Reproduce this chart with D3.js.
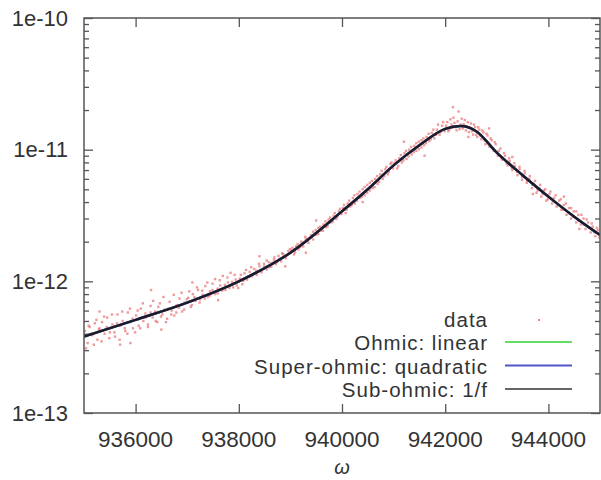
<!DOCTYPE html>
<html>
<head>
<meta charset="utf-8">
<script src="https://cdn.jsdelivr.net/npm/d3@7"></script>
<style>
  body { margin: 0; background: #fff; }
  text { font-family: "Liberation Sans", Arial, sans-serif; fill: #333; }
</style>
</head>
<body>
<div id="chart"></div>
<script>
const margin = { top: 18, right: 1, bottom: 67, left: 84 },
    width = 601,
    height = 480

// x ticks and y decades
var xTicks = [936000, 938000, 940000, 942000, 944000];
var yTicks = [1e-13, 1e-12, 1e-11, 1e-10];
var yTickLabels = ['1e-13', '1e-12', '1e-11', '1e-10'];

// fitted curve
var fitW = [935000, 936000, 937000, 938000, 939000, 940000, 940500, 941000, 941500, 942000, 942300, 942600, 943000, 943500, 944000, 944500, 945000];
var fitS = [3.8e-13, 5.1e-13, 6.9e-13, 1.0e-12, 1.65e-12, 3.4e-12, 5.0e-12, 7.6e-12, 1.08e-11, 1.44e-11, 1.51e-11, 1.38e-11, 9.5e-12, 6.4e-12, 4.4e-12, 3.1e-12, 2.25e-12];

// measured points (omega, signal)
var dataW = [
  935020, 935070, 935110, 935160, 935210, 935260, 935300, 935350, 935400, 935450, 935500, 935550, 935600, 935650, 935700, 935750, 935800, 935850, 935900, 935950,
  936010, 936060, 936100, 936150, 936190, 936240, 936290, 936330, 936380, 936420, 936470, 936520, 936560, 936610, 936660, 936700, 936750, 936800, 936850, 936900, 936950,
  937020, 937070, 937110, 937160, 937210, 937250, 937300, 937350, 937400, 937440, 937490, 937540, 937590, 937630, 937680, 937730, 937780, 937820, 937870, 937920, 937960,
  938020, 938070, 938110, 938160, 938210, 938250, 938300, 938350, 938400, 938440, 938490, 938540, 938580, 938630, 938680, 938720, 938770, 938820, 938860, 938910, 938960,
  939020, 939070, 939110, 939160, 939210, 939250, 939300, 939350, 939400, 939440, 939490, 939540, 939580, 939630, 939680, 939720, 939770, 939820, 939860, 939910, 939960,
  940020, 940070, 940110, 940160, 940210, 940250, 940300, 940350, 940400, 940440, 940490, 940540, 940580, 940630, 940680, 940720, 940770, 940820, 940860, 940910, 940960,
  941020, 941070, 941110, 941160, 941210, 941250, 941300, 941350, 941400, 941440, 941490, 941540, 941580, 941630, 941680, 941720, 941770, 941820, 941860, 941910, 941960,
  942020, 942060, 942100, 942140, 942180, 942220, 942260, 942300, 942340, 942380, 942420, 942460, 942500, 942540, 942580, 942620, 942660, 942700, 942740, 942780, 942820, 942860, 942900, 942940, 942980,
  943020, 943070, 943110, 943160, 943210, 943250, 943300, 943350, 943400, 943440, 943490, 943540, 943580, 943630, 943680, 943720, 943770, 943820, 943860, 943910, 943960,
  944020, 944070, 944110, 944160, 944210, 944250, 944300, 944350, 944400, 944440, 944490, 944540, 944580, 944630, 944680, 944720, 944770, 944820, 944860, 944910, 944960,
  935040, 935090, 935140, 935190, 935240, 935290, 935340, 935390, 935440, 935490, 935540, 935590, 935640, 935690, 935740, 935790, 935840, 935890, 935940, 935990,
  936040, 936090, 936140, 936190, 936240, 936290, 936340, 936390, 936440, 936490, 936540, 936590, 936640, 936690, 936740, 936790, 936840, 936890, 936940, 936990,
  937040, 937090, 937140, 937190, 937240, 937290, 937340, 937390, 937440, 937490, 937540, 937590, 937640, 937690, 937740, 937790, 937840, 937890, 937940, 937990,
  938040, 938090, 938140, 938190, 938240, 938290, 938340, 938390, 938440, 938490, 938540, 938590, 938640, 938690, 938740, 938790, 938840, 938890, 938940, 938990,
  939040, 939090, 939140, 939190, 939240, 939290, 939340, 939390, 939440, 939490, 939540, 939590, 939640, 939690, 939740, 939790, 939840, 939890, 939940, 939990,
  940040, 940090, 940140, 940190, 940240, 940290, 940340, 940390, 940440, 940490, 940540, 940590, 940640, 940690, 940740, 940790, 940840, 940890, 940940, 940990,
  941040, 941090, 941140, 941190, 941240, 941290, 941340, 941390, 941440, 941490, 941540, 941590, 941640, 941690, 941740, 941790, 941840, 941890, 941940, 941990,
  942040, 942080, 942120, 942160, 942200, 942240, 942280, 942320, 942360, 942400, 942440, 942480, 942520, 942560, 942600, 942640, 942680, 942720, 942760, 942800, 942840, 942880, 942920, 942960, 943000,
  943040, 943090, 943140, 943190, 943240, 943290, 943340, 943390, 943440, 943490, 943540, 943590, 943640, 943690, 943740, 943790, 943840, 943890, 943940, 943990,
  944040, 944090, 944140, 944190, 944240, 944290, 944340, 944390, 944440, 944490, 944540, 944590, 944640, 944690, 944740, 944790, 944840, 944890, 944940, 944990,
  935300, 935700, 935900, 936300, 936500, 937100, 937600, 938400, 938900, 939300, 939500, 940400, 941200, 941600, 942150, 942450, 942850, 943300, 943700, 944300, 944600
];
var dataS = [
  4.2e-13, 3.4e-13, 4.5e-13, 3.9e-13, 4.8e-13, 3.6e-13, 4.4e-13, 4.9e-13, 4.0e-13, 5.3e-13, 4.1e-13, 4.7e-13, 3.8e-13, 5.6e-13, 4.6e-13, 5.0e-13, 4.2e-13, 5.8e-13, 4.9e-13, 4.4e-13,
  5.5e-13, 4.6e-13, 6.2e-13, 5.0e-13, 5.7e-13, 4.7e-13, 6.5e-13, 5.3e-13, 5.9e-13, 4.9e-13, 6.8e-13, 5.6e-13, 6.1e-13, 5.2e-13, 7.0e-13, 6.0e-13, 5.5e-13, 6.6e-13, 7.4e-13, 5.9e-13, 6.9e-13,
  7.5e-13, 6.4e-13, 8.0e-13, 7.1e-13, 8.6e-13, 7.3e-13, 7.9e-13, 9.2e-13, 7.6e-13, 8.4e-13, 9.6e-13, 8.0e-13, 8.8e-13, 1.02e-12, 8.5e-13, 9.4e-13, 1.07e-12, 8.9e-13, 9.9e-13, 1.12e-12, 9.3e-13,
  1.05e-12, 9.5e-13, 1.15e-12, 1.03e-12, 1.18e-12, 1.09e-12, 1.24e-12, 1.12e-12, 1.30e-12, 1.17e-12, 1.36e-12, 1.23e-12, 1.40e-12, 1.29e-12, 1.46e-12, 1.35e-12, 1.56e-12, 1.42e-12, 1.61e-12, 1.50e-12, 1.70e-12,
  1.72e-12, 1.60e-12, 1.85e-12, 1.75e-12, 2.00e-12, 1.84e-12, 2.10e-12, 1.96e-12, 2.25e-12, 2.08e-12, 2.45e-12, 2.28e-12, 2.60e-12, 2.42e-12, 2.85e-12, 2.62e-12, 3.05e-12, 2.85e-12, 3.30e-12, 3.10e-12, 3.55e-12,
  3.6e-12, 3.3e-12, 3.9e-12, 3.7e-12, 4.3e-12, 3.9e-12, 4.6e-12, 4.3e-12, 5.0e-12, 4.5e-12, 5.4e-12, 4.9e-12, 5.8e-12, 5.2e-12, 6.3e-12, 5.7e-12, 6.9e-12, 6.3e-12, 7.4e-12, 6.8e-12, 8.0e-12,
  7.9e-12, 7.2e-12, 8.6e-12, 8.0e-12, 9.4e-12, 8.5e-12, 1.00e-11, 9.2e-12, 1.07e-11, 9.8e-12, 1.15e-11, 1.04e-11, 1.22e-11, 1.12e-11, 1.32e-11, 1.20e-11, 1.42e-11, 1.30e-11, 1.55e-11, 1.36e-11, 1.62e-11,
  1.52e-11, 1.38e-11, 1.70e-11, 1.47e-11, 1.60e-11, 1.40e-11, 1.95e-11, 1.55e-11, 1.45e-11, 1.68e-11, 1.50e-11, 1.36e-11, 1.58e-11, 1.30e-11, 1.48e-11, 1.25e-11, 1.42e-11, 1.20e-11, 1.35e-11, 1.10e-11, 1.28e-11, 1.05e-11, 1.18e-11, 9.8e-12, 1.10e-11,
  9.0e-12, 1.02e-11, 8.4e-12, 9.0e-12, 7.6e-12, 8.2e-12, 7.0e-12, 7.5e-12, 6.4e-12, 7.1e-12, 5.9e-12, 6.6e-12, 5.6e-12, 6.0e-12, 5.1e-12, 5.5e-12, 4.7e-12, 5.1e-12, 4.4e-12, 4.9e-12, 4.1e-12,
  4.6e-12, 3.9e-12, 4.3e-12, 3.7e-12, 4.1e-12, 3.5e-12, 3.8e-12, 3.2e-12, 3.6e-12, 3.0e-12, 3.4e-12, 2.8e-12, 3.2e-12, 2.7e-12, 3.0e-12, 2.5e-12, 2.8e-12, 2.35e-12, 2.6e-12, 2.2e-12, 2.45e-12,
  3.1e-13, 4.6e-13, 4.0e-13, 3.3e-13, 5.1e-13, 4.3e-13, 3.5e-13, 5.4e-13, 4.5e-13, 3.7e-13, 5.6e-13, 4.1e-13, 4.8e-13, 3.6e-13, 5.9e-13, 4.4e-13, 4.0e-13, 6.2e-13, 5.2e-13, 4.1e-13,
  6.0e-13, 4.4e-13, 6.8e-13, 5.3e-13, 4.5e-13, 5.8e-13, 7.1e-13, 5.0e-13, 6.4e-13, 5.4e-13, 7.6e-13, 4.9e-13, 6.2e-13, 5.6e-13, 7.9e-13, 5.8e-13, 6.3e-13, 8.2e-13, 6.1e-13, 7.3e-13,
  8.4e-13, 6.6e-13, 7.6e-13, 9.0e-13, 6.9e-13, 8.5e-13, 7.4e-13, 9.8e-13, 7.8e-13, 8.6e-13, 1.04e-12, 8.1e-13, 9.3e-13, 1.10e-12, 8.6e-13, 9.8e-13, 1.16e-12, 9.0e-13, 1.03e-12, 8.9e-13,
  1.12e-12, 1.01e-12, 1.22e-12, 1.08e-12, 1.28e-12, 1.14e-12, 1.20e-12, 1.36e-12, 1.22e-12, 1.30e-12, 1.44e-12, 1.28e-12, 1.38e-12, 1.52e-12, 1.40e-12, 1.48e-12, 1.63e-12, 1.55e-12, 1.58e-12, 1.76e-12,
  1.80e-12, 1.66e-12, 1.92e-12, 1.82e-12, 1.95e-12, 2.18e-12, 2.04e-12, 2.15e-12, 2.38e-12, 2.25e-12, 2.55e-12, 2.44e-12, 2.70e-12, 2.58e-12, 2.95e-12, 2.80e-12, 3.15e-12, 2.98e-12, 3.40e-12, 3.25e-12,
  3.8e-12, 3.5e-12, 4.1e-12, 3.8e-12, 4.5e-12, 4.1e-12, 4.8e-12, 4.4e-12, 5.2e-12, 4.7e-12, 5.6e-12, 5.1e-12, 6.0e-12, 5.5e-12, 6.5e-12, 6.0e-12, 7.1e-12, 6.5e-12, 7.8e-12, 7.2e-12,
  8.3e-12, 7.5e-12, 9.1e-12, 8.3e-12, 9.8e-12, 8.9e-12, 1.05e-11, 9.6e-12, 1.12e-11, 1.01e-11, 1.18e-11, 1.08e-11, 1.25e-11, 1.16e-11, 1.34e-11, 1.22e-11, 1.42e-11, 1.30e-11, 1.52e-11, 1.38e-11,
  1.62e-11, 1.42e-11, 1.55e-11, 1.75e-11, 1.48e-11, 1.64e-11, 1.43e-11, 1.72e-11, 1.56e-11, 1.40e-11, 1.62e-11, 1.47e-11, 1.38e-11, 1.55e-11, 1.30e-11, 1.48e-11, 1.28e-11, 1.40e-11, 1.18e-11, 1.32e-11, 1.12e-11, 1.22e-11, 1.02e-11, 1.14e-11, 9.6e-12,
  9.8e-12, 8.6e-12, 9.4e-12, 7.9e-12, 8.6e-12, 7.3e-12, 7.9e-12, 6.8e-12, 7.4e-12, 6.2e-12, 6.9e-12, 5.8e-12, 6.3e-12, 5.4e-12, 5.8e-12, 4.9e-12, 5.4e-12, 4.6e-12, 5.0e-12, 4.2e-12,
  4.8e-12, 4.1e-12, 4.5e-12, 3.8e-12, 4.2e-12, 3.5e-12, 3.9e-12, 3.3e-12, 3.6e-12, 3.1e-12, 3.4e-12, 2.9e-12, 3.2e-12, 2.7e-12, 2.95e-12, 2.55e-12, 2.75e-12, 2.35e-12, 2.55e-12, 2.15e-12,
  5.9e-13, 3.3e-13, 3.4e-13, 8.6e-13, 4.3e-13, 9.8e-13, 7.2e-13, 1.55e-12, 1.30e-12, 1.65e-12, 2.9e-12, 4.0e-12, 1.15e-11, 9.0e-12, 2.1e-11, 1.25e-11, 1.45e-11, 8.8e-12, 4.6e-12, 4.4e-12, 2.5e-12
];

var legendNames = ['Ohmic: linear', 'Super-ohmic: quadratic', 'Sub-ohmic: 1/f'];
var legendColors = ['#66dd66', '#5555cc', '#666666'];

var svg = d3.select("#chart").append("svg")
  .attr("width", width)
  .attr("height", height);

var x = d3.scaleLinear()
  .domain([935000, 945000])
  .range([margin.left, width - margin.right]);

var y = d3.scaleLog()
  .domain([1e-13, 1e-10])
  .range([height - margin.bottom, margin.top]);

svg.append('defs').append('clipPath')
  .attr('id', 'clip')
  .append('rect')
  .attr('x', x.range()[0])
  .attr('y', y.range()[1])
  .attr('width', x.range()[1] - x.range()[0])
  .attr('height', y.range()[0] - y.range()[1]);

// minor ticks on the log axis
var minor = [];
for (let e = -13; e < -10; e++) {
  for (let m = 2; m <= 9; m++) minor.push(m * Math.pow(10, e));
}

var axisColor = '#555';

function ticksY(values, size, xpos, axis) {
  svg.append('g')
    .attr('transform', `translate(${xpos},0)`)
    .call(axis(y).tickValues(values).tickSize(size).tickFormat(''))
    .call(g => g.select('.domain').remove())
    .selectAll('line').attr('stroke', axisColor).attr('stroke-width', 1.3);
}

ticksY(minor, 5, margin.left, d3.axisRight);
ticksY(minor, 5, width - margin.right, d3.axisLeft);
ticksY(yTicks, 9, margin.left, d3.axisRight);
ticksY(yTicks, 9, width - margin.right, d3.axisLeft);

svg.append('g')
  .attr('transform', `translate(0,${height - margin.bottom})`)
  .call(d3.axisTop(x).tickValues(xTicks).tickSize(9).tickFormat(''))
  .call(g => g.select('.domain').remove())
  .selectAll('line').attr('stroke', axisColor).attr('stroke-width', 1.3);

svg.append('g')
  .attr('transform', `translate(0,${margin.top})`)
  .call(d3.axisBottom(x).tickValues(xTicks).tickSize(9).tickFormat(''))
  .call(g => g.select('.domain').remove())
  .selectAll('line').attr('stroke', axisColor).attr('stroke-width', 1.3);

svg.selectAll('.ylab')
  .data(yTicks)
  .enter()
  .append('text')
  .attr('class', 'ylab')
  .attr('x', 68)
  .attr('y', d => y(d) + 7.5)
  .style('text-anchor', 'end')
  .style('font-size', '22px')
  .text((d, i) => yTickLabels[i]);

svg.selectAll('.xlab')
  .data(xTicks)
  .enter()
  .append('text')
  .attr('class', 'xlab')
  .attr('x', d => x(d))
  .attr('y', height - margin.bottom + 34)
  .style('text-anchor', 'middle')
  .style('font-size', '22.5px')
  .text(d => d);

svg.append('text')
  .attr('x', x(940000))
  .attr('y', 474)
  .style('text-anchor', 'middle')
  .style('font-size', '20px')
  .style('font-style', 'italic')
  .text('ω');

var plot = svg.append('g').attr('clip-path', 'url(#clip)');

plot.selectAll('.dot')
  .data(dataW)
  .enter()
  .append('rect')
  .attr('class', 'dot')
  .attr('x', (d, i) => x(d) - 1.2)
  .attr('y', (d, i) => y(dataS[i]) - 1.2)
  .attr('width', 2.4)
  .attr('height', 2.4)
  .style('fill', '#e04848')
  .style('opacity', 0.55);

var fitLine = d3.line()
  .x((d, i) => x(d))
  .y((d, i) => y(fitS[i]))
  .curve(d3.curveMonotoneX);

plot.append('path')
  .attr('d', fitLine(fitW))
  .attr('fill', 'none')
  .attr('stroke', legendColors[0])
  .attr('stroke-width', 2);

plot.append('path')
  .attr('d', fitLine(fitW))
  .attr('fill', 'none')
  .attr('stroke', legendColors[1])
  .attr('stroke-width', 2.5);

plot.append('path')
  .attr('d', fitLine(fitW))
  .attr('fill', 'none')
  .attr('stroke', '#1c1c28')
  .attr('stroke-width', 2.5);

// legend
var legend = svg.append('g');

legend.append('text')
  .attr('x', 488)
  .attr('y', 327)
  .style('text-anchor', 'end')
  .style('font-size', '20.5px')
  .style('letter-spacing', '1px')
  .text('data');

legend.append('rect')
  .attr('x', 538)
  .attr('y', 319)
  .attr('width', 2)
  .attr('height', 2)
  .style('fill', '#e04040')
  .style('opacity', 0.65);

legend.selectAll('.lname')
  .data(legendNames)
  .enter()
  .append('text')
  .attr('class', 'lname')
  .attr('x', 488)
  .attr('y', (d, i) => 350 + i * 23.5)
  .style('text-anchor', 'end')
  .style('font-size', '20.5px')
  .style('letter-spacing', '1px')
  .text(d => d);

legend.selectAll('.lline')
  .data(legendNames)
  .enter()
  .append('line')
  .attr('class', 'lline')
  .attr('x1', 505)
  .attr('x2', 572)
  .attr('y1', (d, i) => 342 + i * 23.5)
  .attr('y2', (d, i) => 342 + i * 23.5)
  .attr('stroke', (d, i) => legendColors[i])
  .attr('stroke-width', 2);

// frame
svg.append('rect')
  .attr('x', x.range()[0])
  .attr('y', y.range()[1])
  .attr('width', x.range()[1] - x.range()[0])
  .attr('height', y.range()[0] - y.range()[1])
  .attr('fill', 'none')
  .attr('stroke', axisColor)
  .attr('stroke-width', 1.5);
</script>
</body>
</html>
